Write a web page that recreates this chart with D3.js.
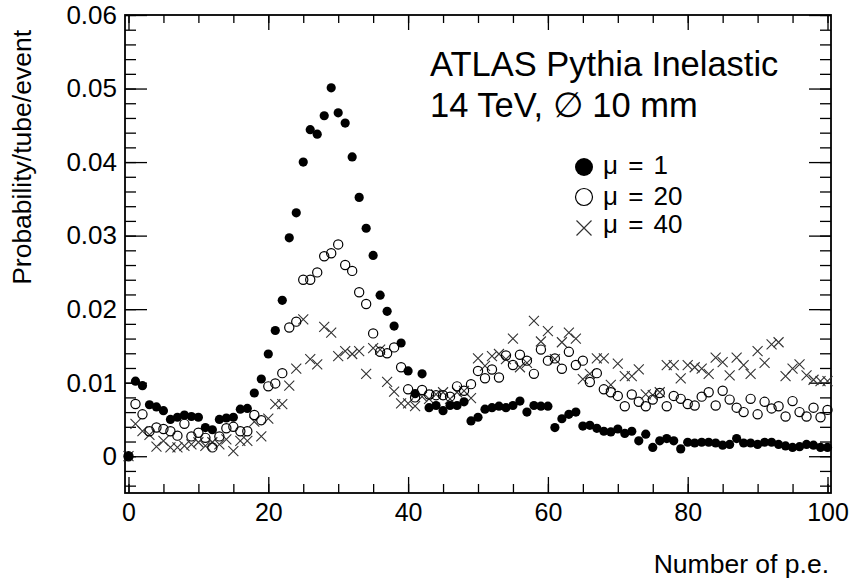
<!DOCTYPE html>
<html>
<head>
<meta charset="utf-8">
<script src="https://cdn.jsdelivr.net/npm/d3@7"></script>
<style>
  body { margin: 0; background: #fff; }
  svg text { font-family: "Liberation Sans", Arial, Helvetica, sans-serif; fill: #000; }
</style>
</head>
<body>
<svg width="853" height="583"></svg>
<script>
// bin centres: number of p.e. 0..100
var bins = d3.range(0, 101);

var mu1 = [
  0.0000, 0.0102, 0.0096, 0.0070, 0.0067, 0.0062, 0.0050, 0.0053, 0.0056, 0.0054,
  0.0053, 0.0039, 0.0036, 0.0050, 0.0052, 0.0053, 0.0064, 0.0065, 0.0086, 0.0105,
  0.0139, 0.0171, 0.0212, 0.0297, 0.0331, 0.0400, 0.0444, 0.0438, 0.0463, 0.0501,
  0.0467, 0.0453, 0.0407, 0.0352, 0.0310, 0.0273, 0.0219, 0.0197, 0.0177, 0.0154,
  0.0116, 0.0085, 0.0112, 0.0066, 0.0069, 0.0062, 0.0069, 0.0069, 0.0074, 0.0048,
  0.0053, 0.0064, 0.0066, 0.0068, 0.0066, 0.0069, 0.0075, 0.0060, 0.0069, 0.0068,
  0.0068, 0.0039, 0.0051, 0.0057, 0.0060, 0.0041, 0.0042, 0.0038, 0.0034, 0.0033,
  0.0037, 0.0031, 0.0034, 0.0021, 0.0030, 0.0012, 0.0021, 0.0024, 0.0021, 0.0010,
  0.0019, 0.0018, 0.0019, 0.0019, 0.0018, 0.0015, 0.0016, 0.0024, 0.0018, 0.0018,
  0.0016, 0.0019, 0.0019, 0.0016, 0.0014, 0.0012, 0.0013, 0.0016, 0.0015, 0.0012,
  0.0012
];

var mu20 = [
  0.0000, 0.0071, 0.0057, 0.0034, 0.0039, 0.0037, 0.0034, 0.0028, 0.0044, 0.0027,
  0.0032, 0.0025, 0.0012, 0.0027, 0.0038, 0.0040, 0.0034, 0.0034, 0.0056, 0.0049,
  0.0095, 0.0099, 0.0113, 0.0175, 0.0183, 0.0240, 0.0240, 0.0250, 0.0272, 0.0276,
  0.0288, 0.0260, 0.0252, 0.0223, 0.0207, 0.0167, 0.0142, 0.0140, 0.0148, 0.0121,
  0.0091, 0.0080, 0.0090, 0.0084, 0.0083, 0.0083, 0.0081, 0.0095, 0.0089, 0.0098,
  0.0116, 0.0106, 0.0118, 0.0107, 0.0137, 0.0124, 0.0138, 0.0130, 0.0112, 0.0145,
  0.0130, 0.0133, 0.0119, 0.0142, 0.0124, 0.0130, 0.0101, 0.0113, 0.0091, 0.0087,
  0.0082, 0.0068, 0.0084, 0.0074, 0.0068, 0.0077, 0.0086, 0.0068, 0.0082, 0.0078,
  0.0071, 0.0069, 0.0081, 0.0087, 0.0069, 0.0089, 0.0077, 0.0066, 0.0060, 0.0078,
  0.0057, 0.0074, 0.0065, 0.0068, 0.0054, 0.0075, 0.0060, 0.0054, 0.0066, 0.0053,
  0.0063
];

var mu40 = [
  0.0000, 0.0044, 0.0034, 0.0029, 0.0013, 0.0021, 0.0012, 0.0012, 0.0014, 0.0016,
  0.0019, 0.0014, 0.0019, 0.0016, 0.0023, 0.0007, 0.0021, 0.0021, 0.0047, 0.0027,
  0.0051, 0.0071, 0.0071, 0.0096, 0.0119, 0.0186, 0.0132, 0.0125, 0.0176, 0.0168,
  0.0136, 0.0143, 0.0139, 0.0143, 0.0112, 0.0147, 0.0145, 0.0101, 0.0088, 0.0072,
  0.0072, 0.0068, 0.0081, 0.0078, 0.0084, 0.0087, 0.0078, 0.0087, 0.0089, 0.0079,
  0.0133, 0.0123, 0.0136, 0.0139, 0.0132, 0.0160, 0.0121, 0.0127, 0.0184, 0.0156,
  0.0170, 0.0132, 0.0155, 0.0168, 0.0160, 0.0105, 0.0112, 0.0133, 0.0133, 0.0097,
  0.0126, 0.0109, 0.0109, 0.0118, 0.0084, 0.0083, 0.0087, 0.0124, 0.0124, 0.0106,
  0.0124, 0.0121, 0.0119, 0.0112, 0.0134, 0.0128, 0.0110, 0.0134, 0.0124, 0.0112,
  0.0143, 0.0127, 0.0152, 0.0155, 0.0109, 0.0119, 0.0125, 0.0110, 0.0104, 0.0102,
  0.0102
];

var xMajor = [0, 20, 40, 60, 80, 100];
var yMajor = [0, 0.01, 0.02, 0.03, 0.04, 0.05, 0.06];
var legendLabels = ["\u03bc = 1", "\u03bc = 20", "\u03bc = 40"];
var titleLines = ["ATLAS Pythia Inelastic", "14 TeV, \u2205 10 mm"];

var svg = d3.select("svg");
var fLeft = 125, fRight = 831, fTop = 15, fBottom = 493;

var x = d3.scaleLinear().domain([-0.5, 100.5]).range([fLeft, fRight]);
var y = d3.scaleLinear().domain([-0.005, 0.06]).range([fBottom, fTop]);

var xMinor = d3.range(0, 101, 5);
var yMinor = d3.range(-4, 61, 2).map(d => d / 1000);

// bottom axis with labels
svg.append("g")
    .attr("transform", "translate(0," + fBottom + ")")
    .call(d3.axisBottom(x).tickValues(xMajor).tickSize(-16).tickPadding(10)
        .tickFormat(d3.format("d")))
    .call(g => g.selectAll("text").attr("font-size", 25).attr("dy", "0.72em"));
svg.append("g")
    .attr("transform", "translate(0," + fBottom + ")")
    .call(d3.axisBottom(x).tickValues(xMinor).tickSize(-9).tickFormat(""));

// top axis
svg.append("g")
    .attr("transform", "translate(0," + fTop + ")")
    .call(d3.axisTop(x).tickValues(xMajor).tickSize(-15).tickFormat(""));
svg.append("g")
    .attr("transform", "translate(0," + fTop + ")")
    .call(d3.axisTop(x).tickValues(xMinor).tickSize(-8).tickFormat(""));

// left axis with labels
svg.append("g")
    .attr("transform", "translate(" + fLeft + ",0)")
    .call(d3.axisLeft(y).tickValues(yMajor).tickSize(-22).tickPadding(8)
        .tickFormat(d => d === 0 ? "0" : d3.format(".2f")(d)))
    .call(g => g.selectAll("text").attr("font-size", 26));
svg.append("g")
    .attr("transform", "translate(" + fLeft + ",0)")
    .call(d3.axisLeft(y).tickValues(yMinor).tickSize(-11).tickFormat(""));

// right axis
svg.append("g")
    .attr("transform", "translate(" + fRight + ",0)")
    .call(d3.axisRight(y).tickValues(yMajor).tickSize(-22).tickFormat(""));
svg.append("g")
    .attr("transform", "translate(" + fRight + ",0)")
    .call(d3.axisRight(y).tickValues(yMinor).tickSize(-11).tickFormat(""));

svg.selectAll(".domain").remove();
svg.selectAll(".tick line").attr("stroke", "#000").attr("stroke-width", 1.3);

svg.append("rect")
    .attr("x", fLeft).attr("y", fTop)
    .attr("width", fRight - fLeft).attr("height", fBottom - fTop)
    .attr("fill", "none").attr("stroke", "#000").attr("stroke-width", 1.8);

// axis titles
svg.append("text")
    .attr("x", fRight - 2).attr("y", 573)
    .attr("text-anchor", "end").attr("font-size", 26.5)
    .text("Number of p.e.");

svg.append("text")
    .attr("transform", "translate(31,30) rotate(-90)")
    .attr("text-anchor", "end").attr("font-size", 26.5)
    .text("Probability/tube/event");

// markers
var crossPath = function (s) {
    return "M" + (-s) + "," + (-s) + "L" + s + "," + s + "M" + (-s) + "," + s + "L" + s + "," + (-s);
};

svg.append("g").selectAll("path")
    .data(bins)
    .enter().append("path")
    .attr("transform", d => "translate(" + x(d) + "," + y(mu40[d]) + ")")
    .attr("d", crossPath(5))
    .attr("stroke", "#333").attr("stroke-width", 1.1).attr("fill", "none");

svg.append("g").selectAll("circle")
    .data(bins)
    .enter().append("circle")
    .attr("cx", d => x(d)).attr("cy", d => y(mu20[d]))
    .attr("r", 4.6)
    .attr("fill", "none").attr("stroke", "#000").attr("stroke-width", 1.2);

svg.append("g").selectAll("circle")
    .data(bins)
    .enter().append("circle")
    .attr("cx", d => x(d)).attr("cy", d => y(mu1[d]))
    .attr("r", 4.6)
    .attr("fill", "#000");

// title text
svg.selectAll(".title")
    .data(titleLines)
    .enter().append("text")
    .attr("class", "title")
    .attr("x", 430).attr("y", (d, i) => 76 + i * 41)
    .attr("font-size", 34.5)
    .text(d => d);

// legend
var lx = 584, ly = [167, 197, 228], ty = [174, 205, 233];
var leg = svg.append("g");
leg.append("circle").attr("cx", lx).attr("cy", ly[0]).attr("r", 9).attr("fill", "#000");
leg.append("circle").attr("cx", lx).attr("cy", ly[1]).attr("r", 8.5)
    .attr("fill", "none").attr("stroke", "#000").attr("stroke-width", 1.2);
leg.append("path").attr("transform", "translate(" + lx + "," + ly[2] + ")")
    .attr("d", crossPath(7.5)).attr("stroke", "#333").attr("stroke-width", 1.2);
leg.selectAll("text")
    .data(legendLabels)
    .enter().append("text")
    .attr("x", lx + 19).attr("y", (d, i) => ty[i])
    .attr("font-size", 26).attr("word-spacing", 3)
    .text(d => d);
</script>
</body>
</html>
